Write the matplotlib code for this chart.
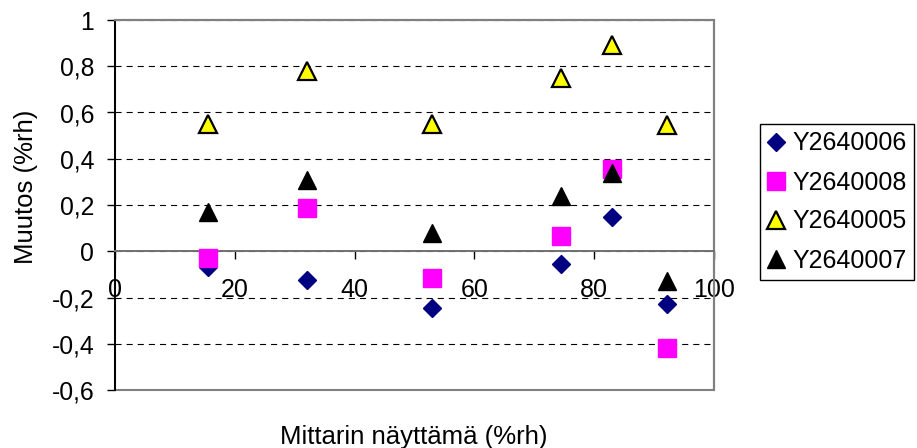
import matplotlib
matplotlib.use("Agg")
import matplotlib.pyplot as plt
from matplotlib.patches import Rectangle
from matplotlib.ticker import MultipleLocator, FuncFormatter

plt.rcParams['font.family'] = ['Liberation Sans', 'DejaVu Sans']

# Meter readings (%rh) and the change for each meter
lukema = [15.5, 32.0, 53.0, 74.5, 83.0, 92.2]
y2640006 = [-0.07, -0.125, -0.245, -0.055, 0.15, -0.23]
y2640008 = [-0.03, 0.185, -0.115, 0.065, 0.355, -0.42]
y2640005 = [0.55, 0.78, 0.55, 0.75, 0.89, 0.545]
y2640007 = [0.17, 0.31, 0.08, 0.24, 0.34, -0.13]

W, H = 917, 448
fig = plt.figure(figsize=(W / 100, H / 100), dpi=100)
ax = fig.add_axes([115 / W, 1 - 390 / H, (714 - 115) / W, (390 - 20) / H])

ax.set_xlim(0, 100)
ax.set_ylim(-0.6, 1.0)

# dashed horizontal gridlines
ax.yaxis.set_major_locator(MultipleLocator(0.2))
ax.xaxis.set_major_locator(MultipleLocator(20))
ax.grid(axis='y', color='black', linestyle=(0, (5.5, 4.5)), linewidth=0.8)
ax.set_axisbelow(True)

ax.plot(lukema, y2640006, linestyle='none', marker='D', ms=9.2,
        color='#000080', mec='#000080', label='Y2640006', zorder=3)
ax.plot(lukema, y2640008, linestyle='none', marker='s', ms=12.5,
        color='#ff00ff', mec='#ff00ff', label='Y2640008', zorder=3)
ax.plot(lukema, y2640005, linestyle='none', marker='^', ms=13.5,
        color='#ffff00', mec='black', mew=1.6, label='Y2640005', zorder=3)
ax.plot(lukema, y2640007, linestyle='none', marker='^', ms=13.5,
        color='black', mec='black', label='Y2640007', zorder=3)

# plot area frame
for s in ['top', 'right']:
    ax.spines[s].set_color('#808080')
    ax.spines[s].set_linewidth(1.5)
ax.add_patch(Rectangle((0, 0), 1, 1, transform=ax.transAxes, fill=False,
                       edgecolor='#808080', linewidth=1.5, zorder=2, clip_on=False))
ax.spines['left'].set_color('black')
ax.spines['left'].set_linewidth(1.4)
ax.spines['bottom'].set_position(('data', 0))
ax.spines['bottom'].set_color('#707070')
ax.spines['bottom'].set_linewidth(1.4)

fmt = FuncFormatter(lambda v, p: f"{round(v, 1):g}".replace('.', ','))
ax.yaxis.set_major_formatter(fmt)
ax.xaxis.set_major_formatter(FuncFormatter(lambda v, p: f"{v:g}"))
ax.tick_params(axis='y', direction='out', length=6, width=1, pad=9, labelsize=17.8)
ax.tick_params(axis='x', direction='out', length=6, width=1, pad=13, labelsize=18)

fig.text(26 / W, 1 - 187 / H, 'Muutos (%rh)', rotation=90,
         ha='center', va='center', fontsize=18.5)
fig.text(414 / W, 1 - 437 / H, 'Mittarin näyttämä (%rh)',
         ha='center', va='center', fontsize=18.5)

leg = ax.legend(loc='upper left', bbox_to_anchor=(760 / W, 1 - 124 / H),
                bbox_transform=fig.transFigure, borderaxespad=0,
                fontsize=18, handlelength=0.7, handletextpad=0.28,
                borderpad=0.3, labelspacing=0.6, fancybox=False,
                framealpha=1, edgecolor='black')
leg.get_frame().set_linewidth(1.0)

fig.savefig('out.png', dpi=100)
